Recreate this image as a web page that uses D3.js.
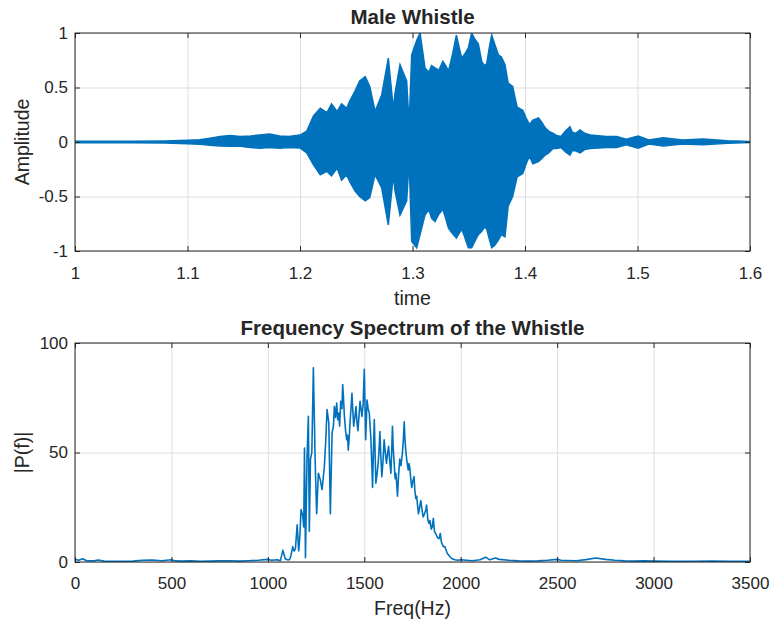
<!DOCTYPE html>
<html>
<head>
<meta charset="utf-8">
<script src="https://cdn.jsdelivr.net/npm/d3@7"></script>
<style>
body { margin: 0; background: #fff; }
svg text { font-family: "Liberation Sans", Arial, sans-serif; fill: #262626; }
</style>
</head>
<body>
<svg id="fig" width="774" height="623"></svg>
<script>
// waveform envelope (time in s, amplitude)
const waveTime = [1.000, 1.050, 1.080, 1.100, 1.111, 1.120, 1.129, 1.138, 1.147, 1.156, 1.164, 1.173, 1.182, 1.190,
    1.200, 1.206, 1.212, 1.218, 1.224, 1.228, 1.233, 1.237, 1.2415, 1.244, 1.249, 1.253, 1.258, 1.262, 1.2667,
    1.2726, 1.2785, 1.283, 1.2845, 1.2889, 1.2948, 1.297, 1.2993, 1.3037, 1.3067, 1.3111, 1.3145, 1.317, 1.320,
    1.3235, 1.327, 1.3295, 1.332, 1.3355, 1.339, 1.3437, 1.346, 1.3496, 1.3526, 1.355, 1.3585, 1.3615, 1.364,
    1.366, 1.368, 1.3704, 1.373, 1.3763, 1.379, 1.3822, 1.385, 1.389, 1.393, 1.398, 1.401, 1.404, 1.407, 1.412,
    1.415, 1.418, 1.421, 1.425, 1.428, 1.432, 1.436, 1.440, 1.442, 1.445, 1.449, 1.453, 1.458, 1.4726, 1.4815,
    1.490, 1.5006, 1.510, 1.523, 1.540, 1.558, 1.580, 1.600];
const waveUpper = [0.006, 0.006, 0.01, 0.015, 0.02, 0.035, 0.05, 0.06, 0.05, 0.055, 0.064, 0.073, 0.055, 0.05,
    0.064, 0.10, 0.24, 0.31, 0.27, 0.35, 0.28, 0.35, 0.31, 0.37, 0.47, 0.56, 0.60, 0.51, 0.28,
    0.43, 0.77, 0.30, 0.45, 0.71, 0.56, 0.16, 0.80, 0.93, 1.00, 0.68, 0.64, 0.70, 0.68,
    0.66, 0.74, 0.70, 0.65, 0.80, 0.98, 0.77, 0.80, 0.86, 1.00, 0.95, 0.90, 0.74, 0.70,
    0.72, 0.85, 0.98, 0.90, 0.80, 0.78, 0.71, 0.54, 0.51, 0.32, 0.29, 0.22, 0.16, 0.20, 0.22,
    0.18, 0.13, 0.10, 0.08, 0.06, 0.05, 0.10, 0.14, 0.09, 0.08, 0.11, 0.08, 0.064, 0.05, 0.05,
    0.025, 0.055, 0.018, 0.04, 0.018, 0.027, 0.012, 0.005];
const waveLower = [-0.006, -0.006, -0.01, -0.015, -0.02, -0.03, -0.037, -0.04, -0.04, -0.05, -0.058, -0.05, -0.058, -0.05,
    -0.055, -0.10, -0.21, -0.30, -0.27, -0.31, -0.24, -0.35, -0.30, -0.36, -0.45, -0.50, -0.54, -0.51, -0.30,
    -0.42, -0.76, -0.30, -0.45, -0.67, -0.54, -0.17, -0.91, -0.97, -0.85, -0.67, -0.62, -0.70, -0.73,
    -0.66, -0.62, -0.70, -0.79, -0.84, -0.88, -0.80, -0.86, -0.97, -0.97, -0.92, -0.85, -0.82, -0.78,
    -0.80, -0.88, -0.97, -0.95, -0.90, -0.85, -0.87, -0.59, -0.50, -0.32, -0.29, -0.20, -0.13, -0.20, -0.18,
    -0.15, -0.12, -0.10, -0.06, -0.06, -0.05, -0.09, -0.12, -0.08, -0.08, -0.10, -0.07, -0.06, -0.05, -0.05,
    -0.025, -0.058, -0.018, -0.036, -0.018, -0.025, -0.012, -0.005];
const timeTicks = [1, 1.1, 1.2, 1.3, 1.4, 1.5, 1.6];
const ampTicks = [-1, -0.5, 0, 0.5, 1];

// magnitude spectrum (Hz, |P(f)|)
const specFreq = [0, 20, 40, 60, 100, 120, 150, 200, 250, 300, 350, 400, 450, 500, 520, 550, 600, 650, 700, 750,
    800, 850, 900, 950, 1000, 1020, 1050, 1065, 1078, 1090, 1100, 1112, 1120, 1129, 1136, 1143, 1152, 1160, 1166,
    1172, 1181, 1186, 1190, 1195, 1203, 1210, 1215, 1221, 1228, 1236, 1245, 1253, 1262, 1272, 1281, 1293, 1300,
    1307, 1316, 1324, 1333, 1340, 1345, 1351, 1357, 1362, 1367, 1372, 1378, 1384, 1388, 1392, 1397, 1403, 1409,
    1413, 1417, 1422, 1426, 1431, 1436, 1440, 1445, 1451, 1457, 1462, 1467, 1472, 1478, 1483, 1488, 1494, 1500,
    1504, 1507, 1511, 1514, 1520, 1526, 1530, 1534, 1538, 1543, 1547, 1552, 1556, 1560, 1566, 1572, 1577, 1581,
    1586, 1591, 1597, 1603, 1609, 1615, 1620, 1626, 1632, 1638, 1642, 1646, 1650, 1655, 1660, 1664, 1668, 1672,
    1678, 1684, 1690, 1698, 1702, 1707, 1711, 1715, 1721, 1728, 1732, 1736, 1741, 1746, 1752, 1758, 1762, 1767,
    1772, 1776, 1781, 1787, 1793, 1799, 1805, 1812, 1819, 1823, 1830, 1836, 1841, 1847, 1853, 1858, 1864, 1870,
    1875, 1881, 1888, 1894, 1900, 1910, 1918, 1930, 1944, 1955, 1970, 1985, 2000, 2030, 2060, 2100, 2130, 2150,
    2180, 2200, 2250, 2300, 2350, 2400, 2450, 2500, 2520, 2550, 2600, 2650, 2700, 2750, 2800, 2850, 2900, 2950,
    3000, 3100, 3200, 3300, 3400, 3500];
const specMag = [1.2, 0.8, 1.5, 0.6, 0.5, 0.9, 0.4, 0.3, 0.3, 0.4, 0.8, 0.9, 0.6, 1.0, 0.5, 0.4, 0.5, 0.3, 0.4, 0.5,
    0.6, 0.4, 0.6, 0.8, 1.2, 0.8, 1.0, 0.6, 5.4, 1.5, 1, 1, 3, 7, 5, 6, 17, 5, 12,
    24, 21, 16, 52, 2, 47, 66.5, 14, 47, 50, 88.7, 47, 22, 40.5, 37.5, 33, 43.6, 55,
    69.6, 63.5, 22, 59, 62, 71, 66, 72.6, 65, 68, 62, 73.4, 70, 81, 75, 66.5, 60, 55.8,
    58, 51, 57, 63.5, 70, 77, 70, 62, 66, 71, 64, 60, 66, 73.4, 70, 66.5, 72, 88,
    70, 55.8, 65, 74, 70, 68, 62, 57, 47, 34, 50, 65, 50, 36, 40, 45, 52, 59.6,
    48, 39, 46, 55.8, 50, 45, 49, 52.8, 46, 40.5, 50, 62, 52, 45, 38, 40.5, 36, 30,
    40, 47, 44, 50, 55, 64, 56, 51, 46, 42, 45, 43, 38, 34, 37, 39, 33, 29,
    30, 26, 22, 25, 28, 24, 20.6, 22, 23.7, 26, 19, 17.6, 19, 15, 16, 20, 14, 13,
    12, 11, 10.7, 13, 9, 7, 7, 4, 2.4, 1.5, 1, 0.8, 1.0, 0.8, 0.6, 1.0, 2.2, 1.0,
    1.8, 1.2, 0.8, 0.5, 0.4, 0.5, 0.8, 1.2, 0.8, 0.7, 0.6, 1.1, 1.8, 1.2, 0.8, 0.5, 0.4, 0.5,
    0.4, 0.3, 0.3, 0.4, 0.3, 0.3];
const freqTicks = [0, 500, 1000, 1500, 2000, 2500, 3000, 3500];
const magTicks = [0, 50, 100];

const lineColor = "#0072BD";
const plainNum = d => String(d);   // MATLAB uses a hyphen minus

class SubPlot {
    /**
     * One MATLAB style axes box
     */
    constructor(svg, box, xDomain, yDomain) {
        this.box = box;
        this.g = svg.append("g");
        this.x = d3.scaleLinear().domain(xDomain).range([box.left, box.right]);
        this.y = d3.scaleLinear().domain(yDomain).range([box.bottom, box.top]);
        let id = "clip" + Math.round(box.top);
        svg.append("clipPath").attr("id", id)
            .append("rect")
            .attr("x", box.left).attr("y", box.top)
            .attr("width", box.right - box.left).attr("height", box.bottom - box.top);
        this.clipId = id;
    };

    drawGrid(xTicks, yTicks) {
        let b = this.box;
        this.g.append("g")
            .attr("transform", `translate(0,${b.bottom})`)
            .call(d3.axisBottom(this.x).tickValues(xTicks).tickSize(-(b.bottom - b.top)).tickFormat(""))
            .call(g => g.select(".domain").remove())
            .selectAll("line").attr("stroke", "#dfdfdf").attr("stroke-width", 1);
        this.g.append("g")
            .attr("transform", `translate(${b.left},0)`)
            .call(d3.axisLeft(this.y).tickValues(yTicks).tickSize(-(b.right - b.left)).tickFormat(""))
            .call(g => g.select(".domain").remove())
            .selectAll("line").attr("stroke", "#dfdfdf").attr("stroke-width", 1);
    }

    drawAxes(xTicks, yTicks, xPad) {
        let b = this.box;
        let style = function(g) {
            g.select(".domain").remove();
            g.selectAll("line").attr("stroke", "#262626");
            g.selectAll("text").attr("font-size", "17px").attr("fill", "#262626")
                .attr("font-family", '"Liberation Sans", Arial, sans-serif');
        };
        this.g.append("g")
            .attr("transform", `translate(0,${b.bottom})`)
            .call(d3.axisBottom(this.x).tickValues(xTicks).tickSizeInner(-5).tickSizeOuter(0).tickPadding(xPad)
                .tickFormat(plainNum))
            .call(style);
        this.g.append("g")
            .attr("transform", `translate(0,${b.top})`)
            .call(d3.axisTop(this.x).tickValues(xTicks).tickSizeInner(-5).tickSizeOuter(0).tickFormat(""))
            .call(style);
        this.g.append("g")
            .attr("transform", `translate(${b.left},0)`)
            .call(d3.axisLeft(this.y).tickValues(yTicks).tickSizeInner(-5).tickSizeOuter(0).tickPadding(7)
                .tickFormat(plainNum))
            .call(style);
        this.g.append("g")
            .attr("transform", `translate(${b.right},0)`)
            .call(d3.axisRight(this.y).tickValues(yTicks).tickSizeInner(-5).tickSizeOuter(0).tickFormat(""))
            .call(style);
        this.g.append("rect")
            .attr("x", b.left).attr("y", b.top)
            .attr("width", b.right - b.left).attr("height", b.bottom - b.top)
            .attr("fill", "none").attr("stroke", "#262626").attr("stroke-width", 1);
    }

    drawLabels(title, xLabel, yLabel, pos) {
        let b = this.box;
        let cx = (b.left + b.right) / 2;
        this.g.append("text").attr("x", cx).attr("y", pos.title)
            .attr("text-anchor", "middle").attr("font-size", "20.5px").attr("font-weight", "bold")
            .attr("fill", "#000").text(title);
        this.g.append("text").attr("x", cx).attr("y", pos.xLabel)
            .attr("text-anchor", "middle").attr("font-size", "19.5px").text(xLabel);
        this.g.append("text")
            .attr("transform", `translate(29,${(b.top + b.bottom) / 2}) rotate(-90)`)
            .attr("text-anchor", "middle").attr("font-size", "19.5px").text(yLabel);
    }
}

let svg = d3.select("#fig");

// top: time signal
let timePlot = new SubPlot(svg, {left: 75, right: 750, top: 33, bottom: 251}, [1, 1.6], [-1, 1]);
timePlot.drawGrid(timeTicks, ampTicks);
let wave = waveTime.map((t, i) => ({t: t, hi: waveUpper[i], lo: waveLower[i]}));
let area = d3.area()
    .x(d => timePlot.x(d.t))
    .y0(d => timePlot.y(d.lo))
    .y1(d => timePlot.y(d.hi));
timePlot.g.append("path")
    .datum(wave)
    .attr("clip-path", `url(#${timePlot.clipId})`)
    .attr("d", area)
    .attr("fill", lineColor)
    .attr("stroke", lineColor)
    .attr("stroke-width", 1.5);
timePlot.drawAxes(timeTicks, ampTicks, 16);
timePlot.drawLabels("Male Whistle", "time", "Amplitude", {title: 24, xLabel: 305});

// bottom: spectrum
let specPlot = new SubPlot(svg, {left: 75, right: 750, top: 343, bottom: 562}, [0, 3500], [0, 100]);
specPlot.drawGrid(freqTicks, magTicks);
let spec = specFreq.map((f, i) => ({f: f, m: specMag[i]}));
let line = d3.line()
    .x(d => specPlot.x(d.f))
    .y(d => specPlot.y(d.m));
specPlot.g.append("path")
    .datum(spec)
    .attr("clip-path", `url(#${specPlot.clipId})`)
    .attr("d", line)
    .attr("fill", "none")
    .attr("stroke", lineColor)
    .attr("stroke-width", 1.6)
    .attr("stroke-linejoin", "round");
specPlot.drawAxes(freqTicks, magTicks, 15);
specPlot.drawLabels("Frequency Spectrum of the Whistle", "Freq(Hz)", "|P(f)|", {title: 335, xLabel: 615});
</script>
</body>
</html>
